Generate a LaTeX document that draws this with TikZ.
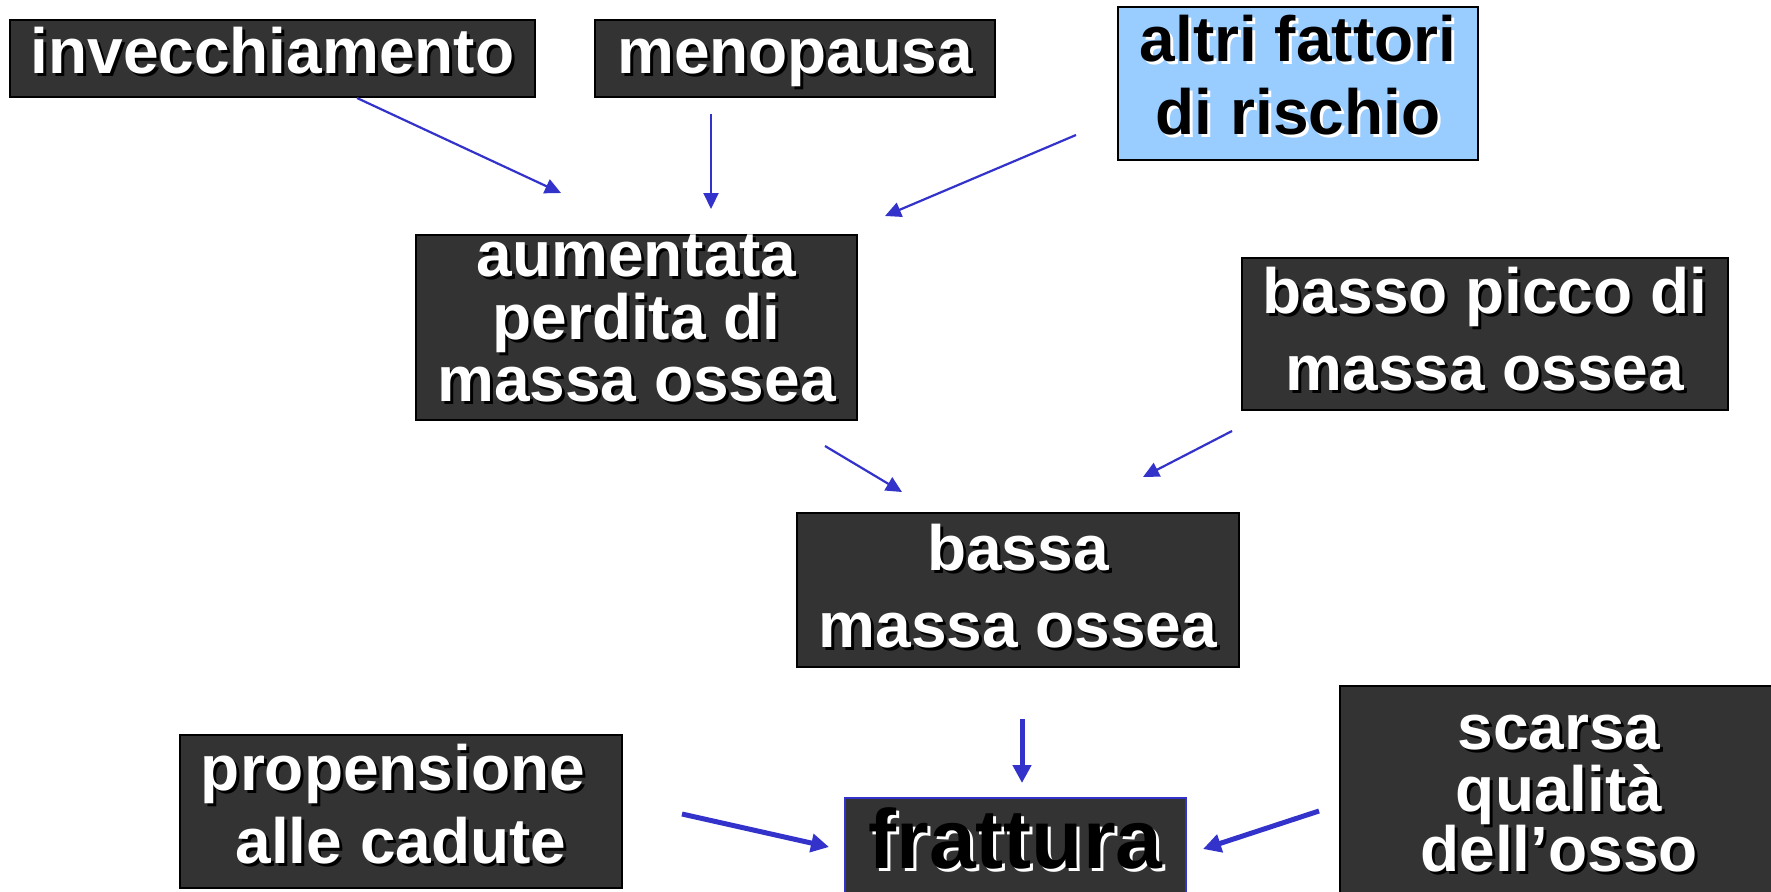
\documentclass[tikz,border=0pt]{standalone}
\usepackage{fontspec}
\setmainfont{Liberation Sans}
\usetikzlibrary{arrows.meta}
\definecolor{boxgray}{HTML}{333333}
\definecolor{skyfill}{HTML}{99CCFF}
\definecolor{arrowblue}{HTML}{3333CC}
\tikzset{
  box/.style={draw=black, line width=2pt, fill=boxgray, inner sep=0pt, rectangle},
  lightbox/.style={box, fill=skyfill},
  wtext/.style={text=white, font=\bfseries\fontsize{64}{64}\selectfont, inner sep=0pt, anchor=base},
  wshadow/.style={text=black, font=\bfseries\fontsize{64}{64}\selectfont, inner sep=0pt, anchor=base},
  btext/.style={text=black, font=\bfseries\fontsize{64}{64}\selectfont, inner sep=0pt, anchor=base},
  bshadow/.style={text=white, font=\bfseries\fontsize{64}{64}\selectfont, inner sep=0pt, anchor=base},
  thinarrow/.style={draw=arrowblue, line width=2.2pt, -{Triangle[length=16pt,width=15pt]}},
  thickarrow/.style={draw=arrowblue, line width=5pt, -{Triangle[length=18pt,width=18pt]}},
}
% white line with dark shadow: name, x, y(baseline), text
\newcommand{\wl}[4]{%
  \node[wshadow] (#1-s) at (#2+3,#3+3) {#4};
  \node[wtext] (#1) at (#2,#3) {#4};}
% black line with white shadow
\newcommand{\bl}[5][64]{%
  \node[bshadow, font=\bfseries\fontsize{#1}{#1}\selectfont] (#2-s) at (#3+3,#4+3) {#5};
  \node[btext, font=\bfseries\fontsize{#1}{#1}\selectfont] (#2) at (#3,#4) {#5};}
\begin{document}
\begin{tikzpicture}[x=1pt,y=-1pt]
\useasboundingbox (0,0) rectangle (1771,891);
\clip (0,0) rectangle (1771,891);
\fill[white] (0,0) rectangle (1771,891);

% boxes
\node[box, minimum width=525pt, minimum height=77pt] (inv) at (272.5,58.5) {};
\node[box, minimum width=400pt, minimum height=77pt] (meno) at (795,58.5) {};
\node[lightbox, minimum width=360pt, minimum height=153pt] (altri) at (1298,83.5) {};
\node[box, minimum width=441pt, minimum height=185pt] (aum) at (636.5,327.5) {};
\node[box, minimum width=486pt, minimum height=152pt] (basso) at (1485,334) {};
\node[box, minimum width=442pt, minimum height=154pt] (bassa) at (1018,590) {};
\node[box, minimum width=442pt, minimum height=153pt] (prop) at (401,811.5) {};
\node[box, draw=arrowblue, minimum width=341pt, minimum height=170pt] (fratt) at (1015.5,883) {};
\node[box, minimum width=440pt, minimum height=290pt] (scarsa) at (1560,831) {};

% texts
\wl{t-inv}{272.5}{74}{invecchiamento}
\wl{t-meno}{795}{74}{menopausa}
\bl{t-altri1}{1298}{62}{altri fattori}
\bl{t-altri2}{1298}{134}{di rischio}
\wl{t-aum1}{636.5}{276}{aumentata}
\wl{t-aum2}{636.5}{339}{perdita di}
\wl{t-aum3}{636.5}{401}{massa ossea}
\wl{t-basso1}{1485}{313}{basso picco di}
\wl{t-basso2}{1485}{390}{massa ossea}
\wl{t-bassa1}{1018}{570}{bassa}
\wl{t-bassa2}{1018}{647}{massa ossea}
\wl{t-prop1}{393}{790}{propensione}
\wl{t-prop2}{401}{863}{alle cadute}
\bl[84]{t-fratt}{1015.5}{868}{frattura}
\wl{t-sc1}{1559}{749}{scarsa}
\wl{t-sc2}{1559}{811}{qualità}
\wl{t-sc3}{1559}{871}{dell’osso}

% connector end points
\coordinate (a1s) at (357,98);   \coordinate (a1e) at (561,193);
\coordinate (a2s) at (711,114);  \coordinate (a2e) at (711,209);
\coordinate (a3s) at (1076,135); \coordinate (a3e) at (885,216);
\coordinate (a4s) at (825,446);  \coordinate (a4e) at (902,492);
\coordinate (a5s) at (1232,431); \coordinate (a5e) at (1143,477);
\coordinate (a6s) at (1022,719); \coordinate (a6e) at (1022,783);
\coordinate (a7s) at (682,814);  \coordinate (a7e) at (829,847);
\coordinate (a8s) at (1319,811); \coordinate (a8e) at (1203,849);

\draw[thinarrow] (a1s) -- (a1e);
\draw[thinarrow] (a2s) -- (a2e);
\draw[thinarrow] (a3s) -- (a3e);
\draw[thinarrow] (a4s) -- (a4e);
\draw[thinarrow] (a5s) -- (a5e);
\draw[thickarrow] (a6s) -- (a6e);
\draw[thickarrow] (a7s) -- (a7e);
\draw[thickarrow] (a8s) -- (a8e);
\end{tikzpicture}
\end{document}
